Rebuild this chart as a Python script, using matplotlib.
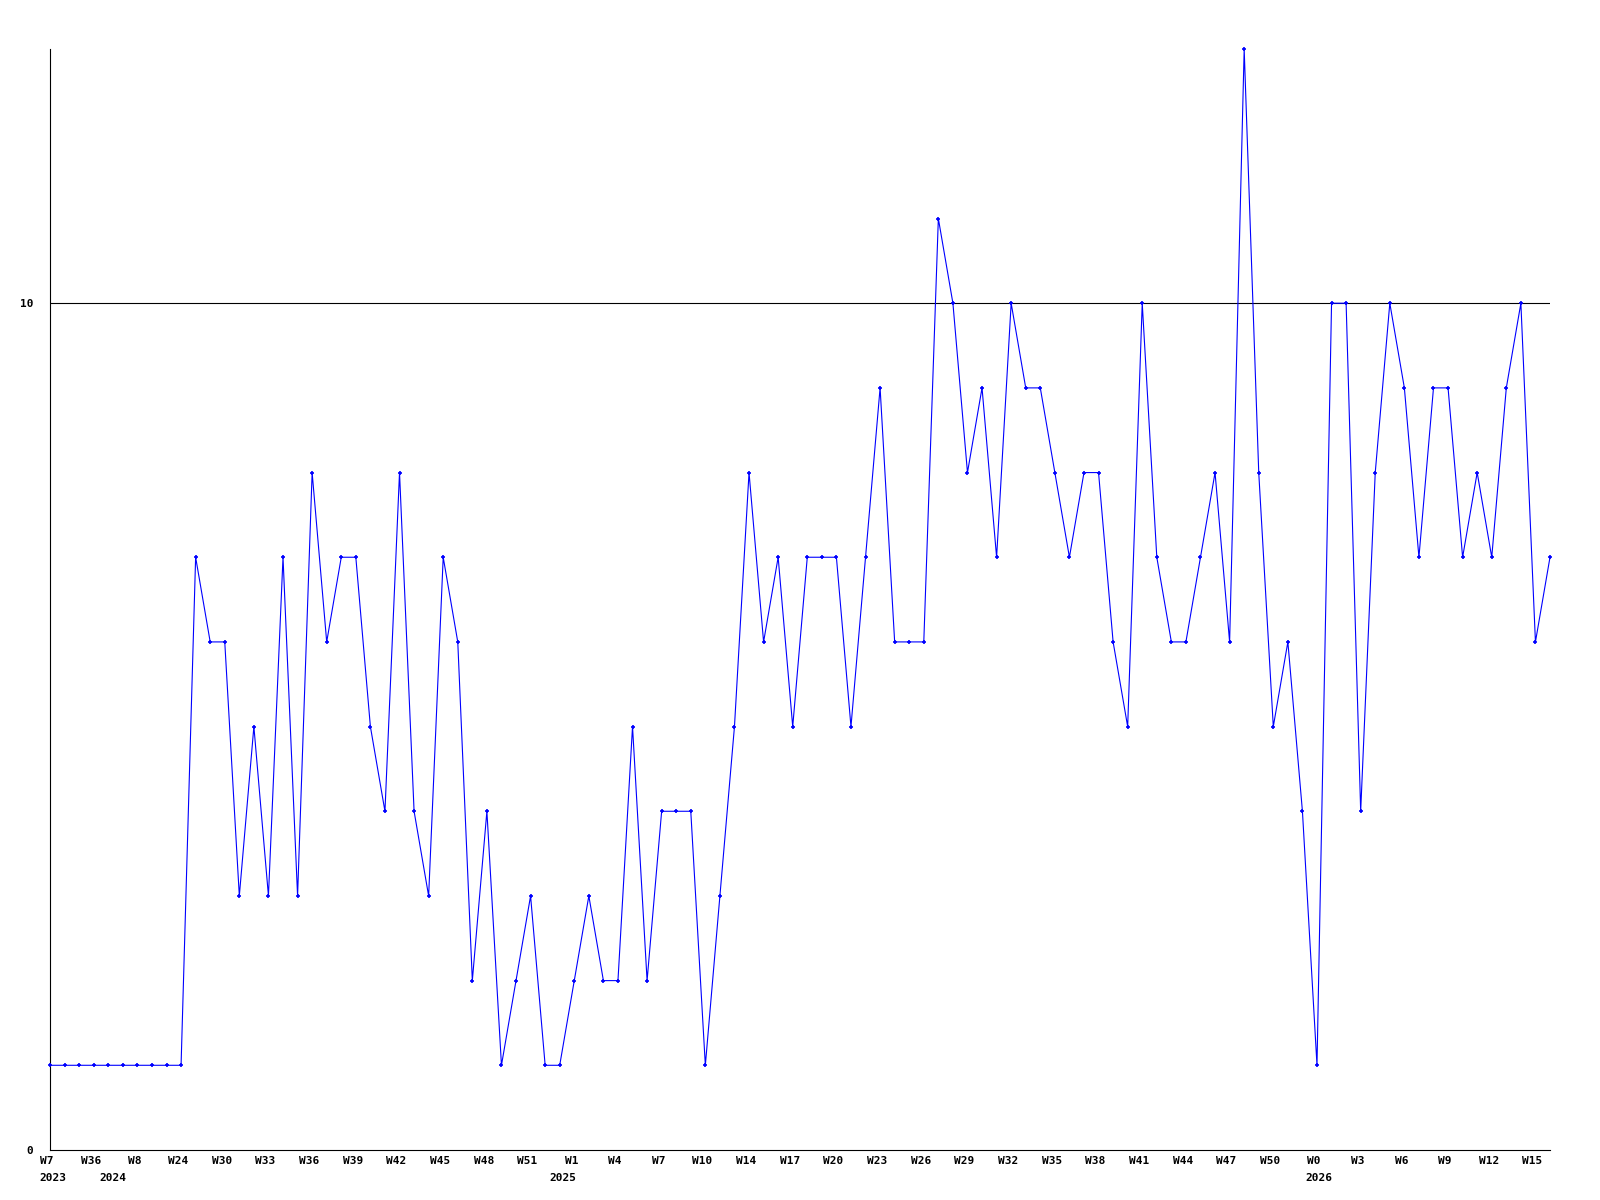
import matplotlib
matplotlib.use("Agg")
import matplotlib.pyplot as plt
import matplotlib.transforms as mtransforms
import numpy as np

# weekly counts, one per week
values = [
  1, 1, 1, 1, 1, 1, 1, 1, 1, 1,
  7, 6, 6, 3, 5, 3, 7, 3, 8, 6,
  7, 7, 5, 4, 8, 4, 3, 7, 6, 2,
  4, 1, 2, 3, 1, 1, 2, 3, 2, 2,
  5, 2, 4, 4, 4, 1, 3, 5, 8, 6,
  7, 5, 7, 7, 7, 5, 7, 9, 6, 6,
  6, 11, 10, 8, 9, 7, 10, 9, 9, 8,
  7, 8, 8, 6, 5, 10, 7, 6, 6, 7,
  8, 6, 13, 8, 5, 6, 4, 1, 10, 10,
  4, 8, 10, 9, 7, 9, 9, 7, 8, 7,
  9, 10, 6, 7,
]

week_labels = [
  "W7", "W36", "W8", "W24", "W30", "W33", "W36", "W39", "W42", "W45",
  "W48", "W51", "W1", "W4", "W7", "W10", "W14", "W17", "W20", "W23",
  "W26", "W29", "W32", "W35", "W38", "W41", "W44", "W47", "W50", "W0",
  "W3", "W6", "W9", "W12", "W15",
]
tick_step = 3

years = ["2023", "2024", "2025", "2026"]
year_pos = [0.2, 4.3, 35.2, 87.1]

FONT = "DejaVu Sans Mono"

fig = plt.figure(figsize=(16, 12), dpi=100)
ax = fig.add_axes([0.03125, 0.0417, 0.9375, 0.9173])

x = np.arange(len(values))
ax.plot(x, values, color="#0000ff", linewidth=0.8, marker="+",
        markersize=3.5, markeredgewidth=1.2, clip_on=False, zorder=3)
ax.axhline(10, color="black", linewidth=0.8, zorder=2)

ax.set_xlim(0, len(values) - 1)
ax.set_ylim(0, 13)

for side in ("top", "right"):
  ax.spines[side].set_visible(False)
for side in ("left", "bottom"):
  ax.spines[side].set_linewidth(0.8)
  ax.spines[side].set_color("black")

ax.set_yticks([0, 10])
ax.set_yticklabels(["0", "10"], fontfamily=FONT, fontweight="bold", fontsize=8)
ax.tick_params(axis="y", length=0, pad=12)

ax.set_xticks(x[::tick_step])
ax.set_xticklabels(week_labels, fontfamily=FONT, fontweight="bold", fontsize=8)
ax.tick_params(axis="x", length=0, pad=4)
# labels sit a few pixels left of their week in the reference
shift = mtransforms.ScaledTranslation(-3 / 100, 0, fig.dpi_scale_trans)
for lab in ax.get_xticklabels():
  lab.set_transform(lab.get_transform() + shift)

for label, pos in zip(years, year_pos):
  ax.annotate(label, xy=(pos, 0), xycoords=("data", "axes fraction"),
              xytext=(0, -20), textcoords="offset points",
              ha="center", va="center", fontfamily=FONT,
              fontweight="bold", fontsize=8, annotation_clip=False)

fig.savefig("out.png", dpi=100)
